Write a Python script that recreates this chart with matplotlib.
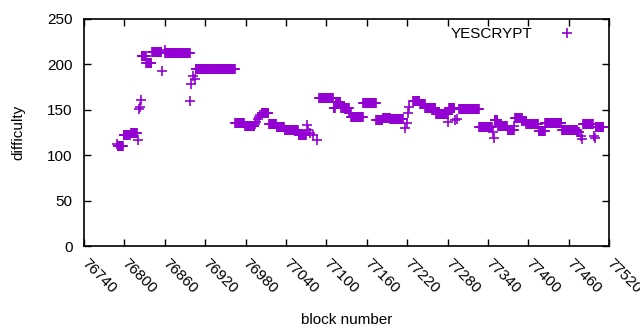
"""Difficulty per block, gnuplot-like look."""
import matplotlib
matplotlib.use("Agg")
import matplotlib.pyplot as plt
import numpy as np

# runs of constant difficulty: first block, last block, value
run_first = [
    76789, 76790, 76799, 76810, 76820, 76822, 76824, 76825, 76826, 76833,
    76841, 76856, 76860, 76861, 76898, 76899, 76902, 76905, 76906, 76965,
    76979, 76994, 76996, 76998, 77000, 77002, 77004, 77015, 77026, 77038,
    77059, 77071, 77073, 77076, 77080, 77086, 77089, 77111, 77114, 77122,
    77134, 77137, 77155, 77174, 77184, 77195, 77217, 77219, 77221, 77223,
    77229, 77239, 77247, 77263, 77281, 77282, 77291, 77294, 77297, 77327,
    77348, 77349, 77350, 77355, 77369, 77379, 77380, 77391, 77397, 77415,
    77425, 77450, 77473, 77478, 77479, 77481, 77498, 77499, 77500,
]
run_last = [
    76789, 76798, 76808, 76819, 76820, 76822, 76824, 76825, 76832, 76840,
    76855, 76856, 76860, 76897, 76898, 76899, 76902, 76905, 76964, 76978,
    76993, 76994, 76996, 76998, 77000, 77002, 77014, 77025, 77037, 77058,
    77070, 77071, 77073, 77076, 77080, 77086, 77110, 77113, 77121, 77133,
    77136, 77154, 77173, 77183, 77194, 77214, 77217, 77219, 77221, 77223,
    77238, 77246, 77262, 77280, 77281, 77290, 77291, 77294, 77326, 77346,
    77348, 77349, 77354, 77368, 77378, 77379, 77390, 77396, 77414, 77424,
    77449, 77472, 77475, 77478, 77479, 77496, 77498, 77499, 77511,
]
run_value = [
    112, 110, 122, 124, 117, 151, 153, 161, 209, 201,
    214, 193, 216, 213, 160, 178, 187, 184, 195, 136,
    132, 134, 137, 140, 142, 144, 146, 134, 131, 128,
    122, 133, 128, 124, 122, 117, 163, 152, 159, 152,
    146, 142, 157, 139, 141, 140, 130, 135, 146, 153,
    160, 156, 152, 145, 137, 152, 139, 140, 151, 131,
    126, 119, 139, 132, 128, 132, 141, 138, 134, 127,
    135, 128, 125, 121, 118, 134, 121, 119, 131,
]

x_ticks = list(range(76740, 77521, 60))
y_ticks = [0, 50, 100, 150, 200, 250]

PURPLE = "#9400d3"

blocks = np.concatenate([np.arange(a, b + 1) for a, b in zip(run_first, run_last)])
diff = np.concatenate([np.full(b - a + 1, v) for a, b, v in zip(run_first, run_last, run_value)])

plt.rcParams["font.family"] = ["Liberation Sans", "DejaVu Sans"]
plt.rcParams["font.size"] = 11

fig = plt.figure(figsize=(6.4, 3.3), dpi=100)
ax = fig.add_axes([0.131, 0.2545, 0.821, 0.688])

ax.plot(blocks, diff, linestyle="none", marker="+", markersize=7,
        markeredgewidth=1.2, color=PURPLE, label="YESCRYPT")

ax.set_xlim(76740, 77520)
ax.set_ylim(0, 250)
ax.set_xticks(x_ticks)
ax.set_yticks(y_ticks)
ax.set_xticklabels([str(t) for t in x_ticks], rotation=-45, ha="left",
                   va="center", rotation_mode="anchor")
ax.tick_params(direction="in", length=5, width=1, top=True, right=True,
               color="black", labelsize=11)
ax.tick_params(axis="x", pad=11)
ax.tick_params(axis="y", pad=8)
for sp in ax.spines.values():
    sp.set_linewidth(1.2)

ax.set_xlabel("block number", labelpad=12)
ax.set_ylabel("difficulty", labelpad=16)

ax.legend(loc="upper right", bbox_to_anchor=(0.965, 1.0), frameon=False,
          markerfirst=False, handlelength=2.0, handletextpad=1.3,
          borderaxespad=0.15, fontsize=11)

fig.savefig("out.png", dpi=100)
